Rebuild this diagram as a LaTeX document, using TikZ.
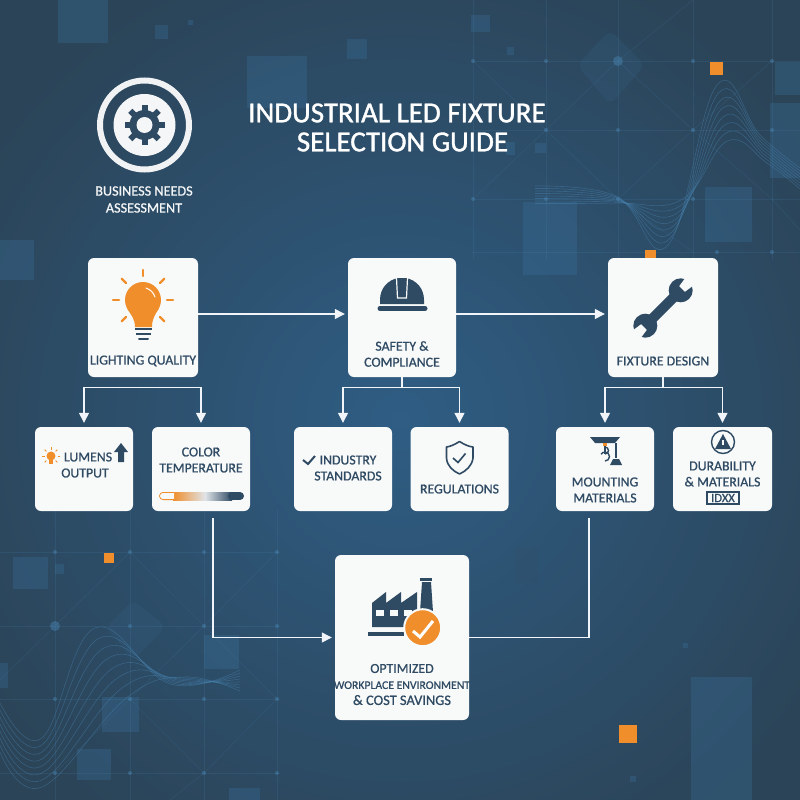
\documentclass[tikz,border=0pt]{standalone}
\usepackage{fontspec}
\setmainfont{Carlito}
\newfontfamily\cardfont[FakeBold=.8]{Carlito}
\newfontfamily\headfont[FakeBold=1.3]{Carlito}
\usetikzlibrary{arrows.meta,positioning,shapes.geometric}
\definecolor{bginner}{HTML}{2F5D84}
\definecolor{bgouter}{HTML}{2B4458}
\definecolor{patch}{HTML}{3B739F}
\definecolor{gridblue}{HTML}{4A86B4}
\definecolor{navy}{HTML}{2F4A63}
\definecolor{amber}{HTML}{F08E2C}
\definecolor{card}{HTML}{F8F9F9}
\tikzstyle{bigcard} = [fill=card, rounded corners=6pt, inner sep=0pt, minimum width=110pt, minimum height=119pt]
\tikzstyle{subcard} = [fill=card, rounded corners=6pt, inner sep=0pt, minimum width=98pt, minimum height=84pt]
\tikzstyle{cardtext} = [text=navy, align=center, inner sep=0pt, font=\cardfont\fontsize{13.8}{16}\selectfont]
\tikzstyle{titletext} = [text=white, align=center, inner sep=0pt, font=\headfont\fontsize{29}{29}\selectfont]
\tikzstyle{flow} = [draw=white!92!gridblue, line width=1.3pt, -{Triangle[length=10pt,width=10pt]}, shorten >=3pt]
\tikzstyle{split} = [draw=white!92!gridblue, line width=1.3pt, {Triangle[length=10pt,width=10pt]}-{Triangle[length=10pt,width=10pt]}, shorten >=4pt, shorten <=4pt]
\tikzstyle{stem} = [draw=white!92!gridblue, line width=1.3pt]
\tikzstyle{gridline} = [draw=gridblue, opacity=.17, line width=.6pt]
\tikzstyle{griddot} = [fill=gridblue, opacity=.45]
\tikzstyle{wave} = [draw=gridblue, opacity=.42, line width=.6pt]
\begin{document}
\begin{tikzpicture}[x=1pt,y=-1pt]
	\useasboundingbox (0,0) rectangle (800,800);
	\begin{scope}
		\clip (0,0) rectangle (800,800);
		\shade[inner color=bginner, outer color=bgouter] (-90,-70) rectangle (890,910);

		\foreach \xa/\ya/\xb/\yb in {58/0/108/43, 155/25/168/39, 188/20/193/25, 247/56/307/108, 347/39/367/59, 471/15/490/32, 507/47/514/55, 535/143/546/153, 506/142/515/155, 523/202/577/275, 705/187/752/242, 775/62/800/95, 770/103/800/178, 13/557/48/589, 55/564/64/574, 0/663/8/688, 102/697/139/732, 204/635/239/669, 77/749/111/780, 229/788/260/800, 691/677/752/800, 630/776/636/782, 683/643/688/648, 0/240/34/280}
			\fill[patch, opacity=.3] (\xa,\ya) rectangle (\xb,\yb);
		\fill[navy, opacity=.3] (717,150) rectangle (752,177);
		\fill[navy, opacity=.2] (515,547) rectangle (538,583);
		\fill[patch, opacity=.14, rounded corners=8pt] (610,30) -- (645,65) -- (610,105) -- (577,65) -- cycle;
		\fill[patch, opacity=.14, rounded corners=8pt] (133,600) -- (166,627) -- (133,660) -- (106,627) -- cycle;

		\foreach \gx in {473,546,618,693,772}
			\draw[gridline] (\gx,0) -- (\gx,260);
		\foreach \gy in {61,130,199,252}
			\draw[gridline] (473,\gy) -- (800,\gy);
		\draw[gridline] (473,61) -- (546,130) -- (618,199) -- (693,252);
		\draw[gridline] (473,199) -- (546,130) -- (618,61) -- (693,0);
		\draw[gridline] (618,199) -- (693,130) -- (772,61);
		\draw[gridline] (618,61) -- (693,130) -- (772,199) -- (800,230);
		\foreach \gx/\gy in {473/61, 546/61, 693/61, 772/61, 546/130, 618/130, 693/130, 772/130, 473/199, 546/199, 618/199, 693/199, 717/252, 772/252}
			\fill[griddot] (\gx,\gy) circle (2pt);
		\fill[griddot] (618,61) circle (5pt);

		\foreach \gx in {55,130,204,277}
			\draw[gridline] (\gx,510) -- (\gx,800);
		\foreach \gy in {552,626,699,773}
			\draw[gridline] (0,\gy) -- (280,\gy);
		\draw[gridline] (130,552) -- (55,626) -- (0,680);
		\draw[gridline] (130,552) -- (204,626) -- (277,699);
		\draw[gridline] (277,552) -- (204,626) -- (130,699) -- (55,773);
		\draw[gridline] (277,699) -- (204,773) -- (170,800);
		\draw[gridline] (130,699) -- (204,773);
		\foreach \gx/\gy in {55/552, 130/552, 204/552, 277/552, 130/626, 204/626, 277/626, 55/699, 130/699, 204/699, 277/699, 55/773, 130/773, 204/773, 277/773}
			\fill[griddot] (\gx,\gy) circle (2pt);
		\fill[griddot] (55,626) circle (5pt);

		\foreach \i in {0,...,7}
			\draw[wave] plot[smooth, tension=.7] coordinates {(535,{186+2.5*\i}) (616,{196+\i}) ({668+2*\i},{245-6.5*\i}) ({717+1.5*\i},{85+8*\i}) ({760+\i},{135+4*\i}) (800,{168+3*\i})};
		\foreach \i in {0,...,7}
			\draw[wave] plot[smooth, tension=.7] coordinates {(0,{703+7*\i}) (42,{738+7*\i}) ({95+4.5*\i},{628+10*\i}) ({170+2*\i},{684-\i}) (240,{670+3*\i})};

		\foreach \sx/\sy/\ss in {710/62/13, 645/250/11, 104/553/10, 619/725/18}
			\fill[amber] (\sx,\sy) rectangle ++(\ss,\ss);
	\end{scope}

	\node[titletext] (title) at (397,127.5) {INDUSTRIAL LED FIXTURE\\\hspace*{11pt}SELECTION GUIDE};
	\node[circle, draw=white!93!navy, line width=6pt, minimum size=89pt, inner sep=0pt] (ring) at (144.5,125) {};
	\node[circle, fill=white!95!navy, minimum size=62pt, inner sep=0pt] (disc) at (ring.center) {};
	\foreach \a in {0,45,...,315}
		\draw[navy, line width=6pt] (ring.center) ++(\a:12) -- ++(\a:8);
	\fill[navy] (ring.center) circle (15pt);
	\fill[white!95!navy] (ring.center) circle (8pt);
	\node[cardtext, text=white!95!navy, font=\cardfont\fontsize{14.2}{17}\selectfont] (business) at (144,199.5) {BUSINESS NEEDS\\ASSESSMENT};

	\node[bigcard] (lighting) at (143,317.5) {};
	\node[bigcard, minimum width=108pt] (safety) at (402,317.5) {};
	\node[bigcard] (fixture) at (663,317.5) {};
	\node[subcard] (lumens) at (84,469) {};
	\node[subcard] (colortemp) at (201,469) {};
	\node[subcard] (industry) at (343,469) {};
	\node[subcard] (regulations) at (459.5,469) {};
	\node[subcard] (mounting) at (605,469) {};
	\node[subcard, minimum width=99pt] (durability) at (722.5,469) {};
	\node[bigcard, minimum width=134pt, minimum height=165pt] (optimized) at (402,637.5) {};

	\draw[flow] (lighting.east |- 0,314) -- (safety.west |- 0,314);
	\draw[flow] (safety.east |- 0,314) -- (fixture.west |- 0,314);
	\draw[split] (lumens.north) -- ++(0,-39) -| (colortemp.north);
	\draw[split] (industry.north) -- ++(0,-39) -| (regulations.north);
	\draw[split] (mounting.north) -- ++(0,-39) -| (durability.north);
	\draw[stem] (safety.south) -- ++(0,11);
	\draw[stem] (fixture.south) -- ++(0,11);
	\draw[flow] ([xshift=12pt,yshift=-7pt]colortemp.south) |- (optimized.west);
	\draw[stem] (optimized.east) -| ([xshift=-16pt,yshift=-7pt]mounting.south);

	\node[cardtext] (lightinglabel) at (143,361) {LIGHTING QUALITY};
	\node[cardtext] (safetylabel) at (402,354) {SAFETY \&\\COMPLIANCE};
	\node[cardtext] (fixturelabel) at (663,361) {FIXTURE DESIGN};
	\node[cardtext] (lumenslabel) at (85,465) {\hspace*{6pt}LUMENS\\OUTPUT};
	\node[cardtext] (colorlabel) at (201,460) {COLOR\\TEMPERATURE};
	\node[cardtext] (industrylabel) at (348,468) {INDUSTRY\\STANDARDS};
	\node[cardtext] (regulationslabel) at (459.5,489) {REGULATIONS};
	\node[cardtext] (mountinglabel) at (605,490) {MOUNTING\\MATERIALS};
	\node[cardtext] (durabilitylabel) at (722.5,474) {DURABILITY\\\& MATERIALS};
	\node[cardtext, draw=navy, line width=1.1pt, minimum width=32pt, minimum height=12pt, font=\cardfont\fontsize{12.5}{12.5}\selectfont] (idxx) at (723,498) {IDXX};
	\node[cardtext] (optimizedlabel) at (402,684.5) {OPTIMIZED\\{\fontsize{11.7}{16}\selectfont WORKPLACE ENVIRONMENT}\\{\fontsize{14.4}{16}\selectfont \& COST SAVINGS}};

	\fill[amber] (143,300) circle (18pt);
	\fill[amber] (127.5,309) .. controls (131,315) and (135,319) .. (135,327) -- (152,327) .. controls (152,319) and (155,315) .. (158.5,309) -- cycle;
	\draw[white, line width=1pt, line cap=round] (146,288) to[bend left=25] (155,297);
	\foreach \a in {0,45,180,135,225,315,270}
		\draw[amber, line width=2.4pt, line cap=round] (143,300) ++(\a:24) -- ++(\a:6);
	\draw[navy, line width=2pt] (135,328.5) -- (152,328.5);
	\draw[navy, line width=2pt] (136,333.5) -- (151,333.5);
	\draw[navy, line width=2pt, line cap=round] (139,338.5) -- (148,338.5);

	\fill[navy] (380,304) -- (380,300) .. controls (380,288) and (388,280) .. (398,278) -- (406,278) .. controls (416,280) and (424,288) .. (424,300) -- (424,304) -- cycle;
	\draw[card, line width=1.2pt] (396.5,278) -- (397.5,298) -- (406.5,298) -- (407.5,278);
	\draw[navy, line width=5pt, line cap=round] (380,308.5) -- (425,308.5);

	\begin{scope}[shift={(663,308)}, rotate=45]
		\fill[navy] (-22,-5) rectangle (22,5);
		\fill[navy] (-25,0) circle (12pt);
		\fill[navy] (25,0) circle (12pt);
		\fill[card] (-40,-6) -- (-27,-4) -- (-27,4) -- (-40,6) -- cycle;
		\fill[card] (40,-6) -- (27,-4) -- (27,4) -- (40,6) -- cycle;
	\end{scope}

	\fill[amber] (51,456) circle (4.5pt);
	\fill[amber] (49,459) rectangle (53,464);
	\foreach \a in {0,45,135,180,225,315,270}
		\draw[amber, line width=.8pt] (51,456) ++(\a:6.5) -- ++(\a:2.5);
	\fill[navy] (121,443) -- (128,452) -- (124,452) -- (124,462) -- (118,462) -- (118,452) -- (114,452) -- cycle;

	\shade[left color=amber, right color=white!85!navy] (173,492) rectangle (205,500);
	\shade[left color=white!85!navy, right color=navy] (205,492) rectangle (232,500);
	\draw[navy, line width=8pt, line cap=round] (232,496) -- (240,496);
	\draw[amber, line width=.8pt, fill=card, rounded corners=3.5pt] (174,492.4) -- (159.5,492.4) -- (159.5,499.6) -- (174,499.6);

	\draw[navy, line width=2pt] (303,460) -- (308,464) -- (315,456);

	\draw[navy, line width=1.6pt, line join=round] (459.5,441.5) .. controls (454,445) and (450,446.5) .. (446.5,447) -- (446.5,458) .. controls (447,466) and (453,471) .. (459.5,474) .. controls (466,471) and (472,466) .. (473,458) -- (473,447) .. controls (469,446.5) and (465,445) .. (459.5,441.5) -- cycle;
	\draw[navy, line width=1.6pt] (453,458) -- (458,462.5) -- (465.5,453.5);

	\fill[navy] (590,437) -- (620,437) -- (615,443) -- (595,443) -- cycle;
	\fill[amber] (603,443) rectangle (607,446);
	\draw[navy, line width=1.2pt] (605,446) -- (605,454);
	\draw[navy, line width=1.4pt] (605,454) arc (90:-90:3.5);
	\draw[navy, line width=1.4pt] (605,461) arc (90:-150:4.5);
	\draw[navy, line width=1.2pt] (616,443) -- (616,458);
	\fill[navy] (610,465) -- (622,465) -- (619,459) -- (613,459) -- cycle;

	\draw[navy, line width=1.4pt] (723,442) circle (11.5pt);
	\fill[navy] (723,434) -- (731,449) -- (715,449) -- cycle;
	\fill[card] (722,440) rectangle (724,445);

	\fill[navy] (372,627) -- (372,603) -- (386,592) -- (386,603) -- (401,592) -- (401,603) -- (417,592) -- (417,627) -- cycle;
	\foreach \wx in {376,390,404}
		\fill[card] (\wx,610) rectangle ++(8,6);
	\fill[navy] (368,632) rectangle (404,636);
	\fill[navy] (422,582) -- (431,582) -- (433,612) -- (420,612) -- cycle;
	\fill[navy] (420,578) rectangle (432,581);
	\draw[card, line width=2pt, fill=amber] (422.7,627.7) circle (18.5pt);
	\draw[white, line width=3pt] (413,631) -- (420,637) -- (433,621);
\end{tikzpicture}
\end{document}
